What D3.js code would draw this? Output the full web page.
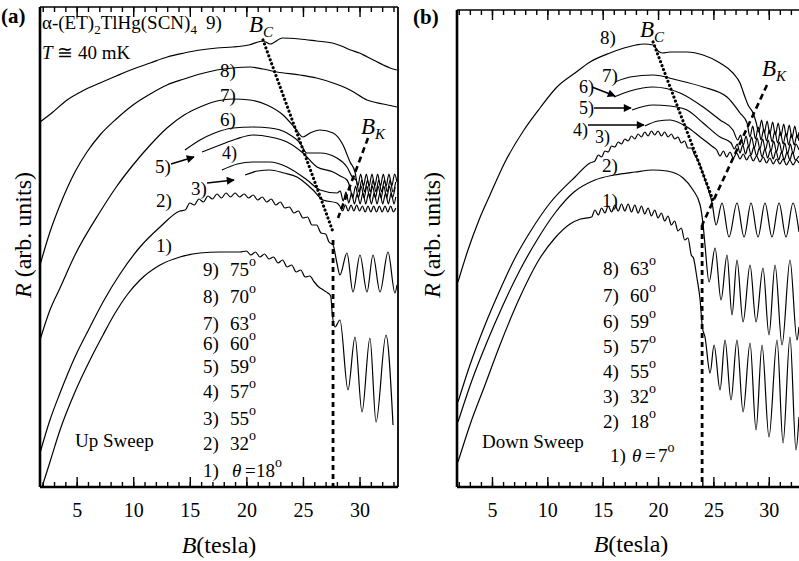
<!DOCTYPE html>
<html>
<head>
<meta charset="utf-8">
<script src="https://cdn.jsdelivr.net/npm/d3@7"></script>
<style>
body { margin: 0; background: #fff; }
text { font-family: "Liberation Serif", "Times New Roman", serif; fill: #000; }
</style>
</head>
<body>
<svg width="799" height="561"></svg>
<script>
// R values are in arbitrary units, B in tesla

// (a) up sweep
var upAngles = [75, 70, 63, 60, 59, 57, 55, 32, 18];   // curves 9) .. 1)
var upCurve9 = [[1.76,365],[2.8,374],[4.15,387],[5.5,396],[7.06,404],[8.5,411],[10,418],[11.5,424],[13,430],[14.5,434],[15.9,437],[17.4,439],[18.8,440],[20.2,442],[21.5,446],[22.1,443],[23.2,449],[24.7,448],[26.2,446],[27.6,444],[28.4,441],[29.2,437],[30,434],[30.7,430],[31.4,426],[32.1,422],[32.7,419],[33.3,417]];
var upCurve8 = [[1.76,222],[2.64,255],[3.53,282],[4.85,315],[5.91,335],[7.06,352],[8.5,368],[9.98,382],[11.5,393],[12.98,402],[14.5,408],[15.9,413],[17.4,417],[18.82,419],[20.32,420],[21.47,418],[22.7,415],[24.74,412],[26.2,409],[27.66,404],[29.16,397],[30.66,387],[32.07,383],[33.31,380]];
var upCurve7 = [[1.76,147],[2.64,177],[3.53,199],[4.85,232],[7.06,275],[8.5,300],[9.98,322],[11.5,342],[12.98,359],[14.5,372],[15.9,380],[17.4,386],[18.82,388],[20.32,387],[21.82,382],[23.24,372],[24.3,359],[25,350],[25.62,354],[26.51,357],[27.66,354],[28.54,342],[29.16,325],[29.6,315],[29.85,301],[30.1,313],[30.35,301],[30.6,313],[30.85,301],[31.1,313],[31.35,301],[31.6,313],[31.85,301],[32.1,313],[32.35,301],[32.6,313],[32.85,301],[33.1,313],[33.31,305]];
var upCurve6 = [[14.57,337],[15.9,347],[17.2,354],[18.82,359],[20.58,360],[22.09,359],[23.59,354],[24.74,344],[25.36,334],[26.51,334],[28,329],[28.89,320],[29.42,309],[29.7,307],[29.95,295],[30.2,307],[30.45,295],[30.7,307],[30.95,295],[31.2,307],[31.45,295],[31.7,307],[31.95,295],[32.2,307],[32.45,295],[32.7,307],[32.95,295],[33.2,305]];
var upCurve5 = [[16.08,335],[17.67,342],[19.1,348],[20.58,352],[22.1,350],[23.59,345],[25,334],[26.24,320],[27.66,315],[28.3,311],[28.89,307],[29.15,300],[29.4,289],[29.65,301],[29.9,289],[30.15,301],[30.4,289],[30.65,301],[30.9,289],[31.15,301],[31.4,289],[31.65,301],[31.9,289],[32.15,301],[32.4,289],[32.65,301],[32.9,289],[33.15,300]];
var upCurve4 = [[17.84,317],[19.2,323],[20.58,325],[22.09,325],[23.59,320],[25.36,307],[26.51,297],[28,294],[28.3,296],[28.55,286],[28.8,295],[29.05,284],[29.3,294],[29.55,283],[29.8,293],[30.05,283],[30.3,294],[30.55,283],[30.8,294],[31.05,283],[31.3,294],[31.55,283],[31.8,294],[32.05,283],[32.3,294],[32.55,283],[32.8,294],[33.05,283],[33.2,290]];
var upCurve3 = [[19.88,312],[21,316],[22.09,317],[23.3,314],[24.47,310],[25.2,304],[25.89,297],[26.77,287],[28,284],[28.25,281],[28.5,276],[28.75,282],[29,276],[29.25,282],[29.5,276],[29.75,282],[30,276],[30.25,281],[30.5,275],[30.75,281],[31,275],[31.25,281],[31.5,275],[31.75,281],[32,275],[32.25,281],[32.5,275],[32.75,281],[33,275],[33.2,279]];
var upCurve2 = [[1.76,34],[2.64,67],[3.53,94],[4.85,130],[6.18,160],[7.33,185],[8.83,213],[10.6,240],[12.37,260],[14.13,276],[14.6,277],[15,284],[15.4,282],[15.8,288],[16.2,285],[16.6,291],[17,288],[17.4,293],[17.8,289],[18.2,294],[18.6,290],[19,294],[19.4,290],[19.8,293],[20.2,289],[20.6,292],[21,287],[21.4,290],[21.8,285],[22.2,288],[22.6,282],[23,285],[23.4,279],[23.8,280],[24.2,274],[24.6,276],[25,269],[25.4,270],[25.8,262],[26.2,262],[26.6,254],[27,253],[27.3,245],[27.66,242],[28,224],[28.27,212],[28.89,234],[29.42,195],[30.04,232],[30.66,195],[31.19,232],[31.81,195],[32.52,235],[33.13,194],[33.31,202]];
var upCurve1 = [[1.94,0],[2.64,25],[3.53,57],[4.85,95],[6.18,127],[7.33,152],[8.4,174],[9.45,192],[10.6,207],[12.37,222],[14.13,230],[15.9,234],[17.67,235],[19.44,235],[20,236],[20.4,232],[20.8,235],[21.2,230],[21.6,233],[22,228],[22.4,230],[22.8,224],[23.2,227],[23.6,220],[24,222],[24.4,215],[24.8,217],[25.2,210],[25.6,211],[26,205],[26.4,200],[26.8,197],[27.2,194],[27.45,191],[27.6,172],[27.83,160],[28.27,167],[28.98,97],[29.6,150],[30.22,75],[30.92,149],[31.46,65],[32.34,152],[32.96,62]];
var upBc = [[21.47,447],[27.66,255]];
var upBcDrop = [[27.66,247],[27.66,0]];
var upBk = [[30.75,349],[28.1,269]];

// (b) down sweep
var downAngles = [63, 60, 59, 57, 55, 32, 18, 7];     // curves 8) .. 1)
var downCurve8 = [[1.93,205],[2.83,237],[3.83,267],[4.82,292],[6.18,325],[7.89,357],[9.34,379],[10.87,400],[12.5,414],[13.86,425],[15.66,434],[16.93,439],[18,442],[18.73,443],[19.55,442],[20,436],[20.4,434],[21.08,435],[22.62,435],[24.07,432],[25.6,424],[26.77,414],[27.4,404],[27.85,390],[28.13,382],[28.58,374],[28.85,365],[29.1,355],[29.35,367],[29.6,354],[29.85,366],[30.1,353],[30.35,365],[30.6,352],[30.85,364],[31.1,351],[31.35,363],[31.6,350],[31.85,362],[32.1,349],[32.35,361],[32.6,349],[32.73,355]];
var downCurve7 = [[16.11,405],[17.47,410],[19.55,412],[21.71,407],[24.07,400],[26.23,390],[27.4,374],[28.04,364],[28.3,350],[28.55,361],[28.8,348],[29.05,360],[29.3,347],[29.55,358],[29.8,346],[30.05,357],[30.3,345],[30.55,356],[30.8,344],[31.05,355],[31.3,343],[31.55,354],[31.8,342],[32.05,353],[32.3,342],[32.55,352],[32.73,346]];
var downCurve6 = [[16.02,390],[17.47,396],[19.55,400],[21.99,394],[24.07,380],[25.6,367],[26.77,357],[27.2,347],[27.45,352],[27.7,342],[27.95,351],[28.2,340],[28.45,350],[28.7,339],[28.95,349],[29.2,338],[29.45,348],[29.7,337],[29.95,347],[30.2,336],[30.45,346],[30.7,335],[30.95,345],[31.2,334],[31.45,344],[31.7,333],[31.95,343],[32.2,333],[32.45,343],[32.73,337]];
var downCurve5 = [[17.65,377],[19.55,382],[21.08,381],[22.62,377],[24.07,364],[25.6,350],[26.6,344],[26.9,338],[27.15,343],[27.4,334],[27.65,342],[27.9,333],[28.15,341],[28.4,332],[28.65,340],[28.9,331],[29.15,339],[29.4,330],[29.65,338],[29.9,329],[30.15,337],[30.4,328],[30.65,336],[30.9,327],[31.15,335],[31.4,327],[31.65,335],[31.9,327],[32.15,335],[32.4,327],[32.73,331]];
var downCurve4 = [[18.82,361],[20,366],[21.08,367],[22.62,360],[23.8,350],[24.97,340],[25.3,337],[25.6,331],[25.9,336],[26.2,330],[26.5,335],[26.8,329],[27.1,334],[27.4,328],[27.7,333],[28,327],[28.3,332],[28.6,326],[28.9,331],[29.2,325],[29.5,330],[29.8,324],[30.1,329],[30.4,323],[30.7,328],[31,323],[31.3,328],[31.6,322],[31.9,327],[32.2,322],[32.5,327],[32.73,324]];
var downCurve3 = [[1.93,85],[3.01,122],[4.37,162],[5.72,197],[7.08,229],[8.44,255],[10.24,284],[12.5,310],[13.86,324],[14.3,326],[14.6,332],[14.9,330],[15.2,336],[15.5,335],[15.8,341],[16.1,340],[16.4,345],[16.7,343],[17,348],[17.3,346],[17.6,351],[17.9,348],[18.2,353],[18.5,350],[18.8,355],[19.1,351],[19.4,356],[19.7,352],[20,356],[20.3,351],[20.6,355],[20.9,350],[21.2,353],[21.5,348],[21.8,350],[22.1,344],[22.4,346],[22.7,339],[23,339],[23.3,332],[23.6,327],[24.16,310],[24.61,295],[24.88,284],[25.24,262],[25.78,284],[26.41,250],[27.13,284],[27.77,250],[28.4,284],[29.03,250],[29.66,284],[30.29,250],[30.93,284],[31.56,250],[32.19,284],[32.73,255]];
var downCurve2 = [[1.93,65],[3.2,107],[4.55,145],[6,182],[7.53,217],[9.07,247],[10.69,274],[12.41,295],[14.3,307],[16.02,312],[17.92,315],[19.55,317],[20.81,316],[22.26,309],[23.16,297],[23.8,282],[24.07,262],[24.24,242],[24.61,205],[25.15,239],[25.69,187],[26.23,232],[26.68,172],[27.13,227],[27.68,165],[28.31,222],[28.85,165],[29.48,219],[30.02,152],[30.57,222],[31.2,142],[31.92,227],[32.55,147],[32.73,160]];
var downCurve1 = [[1.93,25],[3.01,62],[4.37,102],[5.72,142],[7.53,190],[9.34,229],[10.69,249],[12.05,263],[13,268],[14,270],[14.3,277],[14.6,272],[14.9,279],[15.2,274],[15.5,281],[15.8,275],[16.1,282],[16.4,276],[16.7,283],[17,276],[17.3,283],[17.6,275],[17.9,282],[18.2,274],[18.5,281],[18.8,273],[19.1,279],[19.4,271],[19.7,277],[20,269],[20.3,274],[20.6,266],[20.9,271],[21.2,262],[21.5,266],[21.8,256],[22.1,259],[22.4,247],[22.7,249],[23,232],[23.2,229],[23.5,210],[23.8,187],[24,160],[24.24,150],[24.7,114],[25.06,142],[25.6,97],[26.05,147],[26.59,87],[27.13,147],[27.68,75],[28.31,144],[28.85,57],[29.39,142],[30.02,50],[30.75,147],[31.29,44],[31.92,150],[32.46,37],[32.73,70]];
var downBc = [[19.55,445],[25.06,284]];
var downBcDrop = [[23.98,262],[23.98,0]];
var downBk = [[29.84,402],[23.98,262]];

var tickValues = [5, 10, 15, 20, 25, 30];
var minorTicks = d3.range(2, 34);

var svg = d3.select('svg');
var serif = '"Liberation Serif", "Times New Roman", serif';

var xA = d3.scaleLinear().domain([1.76, 33.4]).range([40, 398]);
var yA = d3.scaleLinear().domain([0, 480]).range([487, 7]);
var xB = d3.scaleLinear().domain([1.84, 33.4]).range([457, 806.4]);
var yB = d3.scaleLinear().domain([0, 477]).range([487, 10]);

svg.append('defs').append('marker')
	.attr('id', 'arr').attr('viewBox', '0 0 10 10').attr('refX', 9).attr('refY', 5)
	.attr('markerUnits', 'userSpaceOnUse').attr('markerWidth', 12).attr('markerHeight', 8)
	.attr('orient', 'auto')
	.append('path').attr('d', 'M0,0L10,5L0,10z').attr('fill', '#000');

function txt(x, y, size, parts, anchor) {
	var t = svg.append('text').attr('x', x).attr('y', y).attr('font-size', size);
	if (anchor) t.attr('text-anchor', anchor);
	parts.forEach(function(p) {
		if (typeof p === 'string') { t.append('tspan').text(p); return; }
		var s = t.append('tspan').text(p.t);
		if (p.i) s.attr('font-style', 'italic');
		if (p.fs) s.attr('font-size', p.fs);
		if (p.dy) s.attr('dy', p.dy);
		if (p.x != null) s.attr('x', p.x);
	});
	return t;
}

function draw_axes(x, top, bottom, right) {
	var g = svg.append('g');
	[['b', bottom], ['t', top]].forEach(function(side) {
		var mk = side[0] === 'b' ? d3.axisBottom : d3.axisTop;
		var minor = g.append('g').attr('transform', 'translate(0,' + side[1] + ')')
			.call(mk(x).tickValues(minorTicks).tickSize(-5).tickFormat(''));
		var major = g.append('g').attr('transform', 'translate(0,' + side[1] + ')')
			.call(mk(x).tickValues(tickValues).tickSize(-10).tickPadding(16));
		[minor, major].forEach(function(a) {
			a.select('.domain').remove();
			a.selectAll('line').attr('stroke-width', 1.4);
		});
		major.attr('font-family', serif).attr('font-size', 20);
		if (side[0] === 't') major.selectAll('text').remove();
	});
	var l = x.range()[0];
	g.append('line').attr('x1', l).attr('x2', l).attr('y1', top).attr('y2', bottom).attr('stroke', '#000').attr('stroke-width', 2.6);
	g.append('line').attr('x1', l).attr('x2', right).attr('y1', bottom).attr('y2', bottom).attr('stroke', '#000').attr('stroke-width', 2.6);
	g.append('line').attr('x1', l).attr('x2', right).attr('y1', top).attr('y2', top).attr('stroke', '#000').attr('stroke-width', 1.6);
	g.append('line').attr('x1', right).attr('x2', right).attr('y1', top).attr('y2', bottom).attr('stroke', '#000').attr('stroke-width', 1.8);
}

function draw_curves(x, y, curves) {
	var line = d3.line().x(function(d) { return x(d[0]); }).y(function(d) { return y(d[1]); }).curve(d3.curveMonotoneX);
	svg.append('g').selectAll('path').data(curves).enter().append('path')
		.attr('d', line).attr('fill', 'none').attr('stroke', '#000').attr('stroke-width', 1.2);
}

function draw_guides(x, y, bc, drop, bk) {
	var line = d3.line().x(function(d) { return x(d[0]); }).y(function(d) { return y(d[1]); });
	svg.append('path').attr('d', line(bc)).attr('fill', 'none').attr('stroke', '#000')
		.attr('stroke-width', 3.2).attr('stroke-linecap', 'round').attr('stroke-dasharray', '0.01 4.2');
	svg.append('path').attr('d', line(drop)).attr('fill', 'none').attr('stroke', '#000')
		.attr('stroke-width', 2.8).attr('stroke-dasharray', '5 4');
	svg.append('path').attr('d', line(bk)).attr('fill', 'none').attr('stroke', '#000')
		.attr('stroke-width', 2.6).attr('stroke-dasharray', '6 4');
}

function arrow(x1, y1, x2, y2) {
	svg.append('line').attr('x1', x1).attr('y1', y1).attr('x2', x2).attr('y2', y2)
		.attr('stroke', '#000').attr('stroke-width', 1.4).attr('marker-end', 'url(#arr)');
}

// panel (a)
draw_axes(xA, 7, 487, 398);
draw_curves(xA, yA, [upCurve1, upCurve2, upCurve3, upCurve4, upCurve5, upCurve6, upCurve7, upCurve8, upCurve9]);
draw_guides(xA, yA, upBc, upBcDrop, upBk);

// panel (b), its right border is outside the picture
draw_axes(xB, 10, 487, 806);
draw_curves(xB, yB, [downCurve1, downCurve2, downCurve3, downCurve4, downCurve5, downCurve6, downCurve7, downCurve8]);
draw_guides(xB, yB, downBc, downBcDrop, downBk);

// panel letters
txt(1, 23, 21, ['(a)']).attr('font-weight', 'bold');
txt(413, 24, 21, ['(b)']).attr('font-weight', 'bold');

// axis titles
txt(219, 553, 24, [{t: 'B', i: true}, '(tesla)'], 'middle');
txt(631, 552, 24, [{t: 'B', i: true}, '(tesla)'], 'middle');
txt(0, 0, 24, [{t: 'R', i: true}, ' (arb. units)'], 'middle').attr('transform', 'translate(31,235) rotate(-90)');
txt(0, 0, 24, [{t: 'R', i: true}, ' (arb. units)'], 'middle').attr('transform', 'translate(440,235) rotate(-90)');

// sample info
txt(42, 29, 19, ['α-(ET)', {t: '2', fs: 13, dy: 5}, {t: 'TlHg(SCN)', dy: -5}, {t: '4', fs: 13, dy: 5}]);
txt(42, 59, 19, [{t: 'T', i: true}, ' ≅ 40 mK']);

// B_C, B_K labels
txt(249, 32, 23, [{t: 'B', i: true}, {t: 'C', i: true, fs: 15, dy: 5}]);
txt(361, 134, 23, [{t: 'B', i: true}, {t: 'K', i: true, fs: 15, dy: 5}]);
txt(640, 37, 23, [{t: 'B', i: true}, {t: 'C', i: true, fs: 15, dy: 5}]);
txt(762, 76, 23, [{t: 'B', i: true}, {t: 'K', i: true, fs: 15, dy: 5}]);

// curve numbers (a)
txt(206, 29, 19, ['9)']);
txt(220, 77, 19, ['8)']);
txt(220, 102, 19, ['7)']);
txt(220, 126, 19, ['6)']);
txt(155, 173, 19, ['5)']);
txt(222, 159, 18, ['4)']);
txt(191, 195, 19, ['3)']);
txt(156, 207, 19, ['2)']);
txt(156, 252, 19, ['1)']);
arrow(171, 164, 194, 157);
arrow(207, 183, 234, 180);

// curve numbers (b)
txt(600, 44, 19, ['8)']);
txt(602, 82, 19, ['7)']);
txt(579, 93, 18, ['6)']);
txt(579, 114, 18, ['5)']);
txt(573, 136, 18, ['4)']);
txt(595, 143, 18, ['3)']);
txt(602, 172, 19, ['2)']);
txt(602, 207, 19, ['1)']);
arrow(592, 87, 615, 96);
arrow(594, 108, 631, 108);
arrow(588, 125, 644, 125);

// angle lists
var upRowsY = [276, 303, 330, 350, 373, 398, 425, 450, 477];
upAngles.forEach(function(a, i) {
	var n = upAngles.length - i;
	if (n === 1) {
		txt(203, upRowsY[i], 19, [n + ')', {t: 'θ', i: true, x: 232}, {t: '=', x: 245}, {t: String(a), x: 256}, {t: 'o', fs: 14, dy: -10}]);
	} else {
		txt(203, upRowsY[i], 19, [n + ')', {t: String(a), x: 230}, {t: 'o', fs: 14, dy: -10}]);
	}
});
var downRowsY = [275, 302, 328, 353, 378, 403, 428, 462];
downAngles.forEach(function(a, i) {
	var n = downAngles.length - i;
	if (n === 1) {
		txt(610, downRowsY[i], 19, [n + ')', {t: 'θ', i: true, x: 632}, {t: '=', x: 645}, {t: String(a), x: 658}, {t: 'o', fs: 14, dy: -10}]);
	} else {
		txt(603, downRowsY[i], 19, [n + ')', {t: String(a), x: 630}, {t: 'o', fs: 14, dy: -10}]);
	}
});

txt(75, 447, 19, ['Up Sweep']);
txt(482, 448, 19, ['Down Sweep']);
</script>
</body>
</html>
